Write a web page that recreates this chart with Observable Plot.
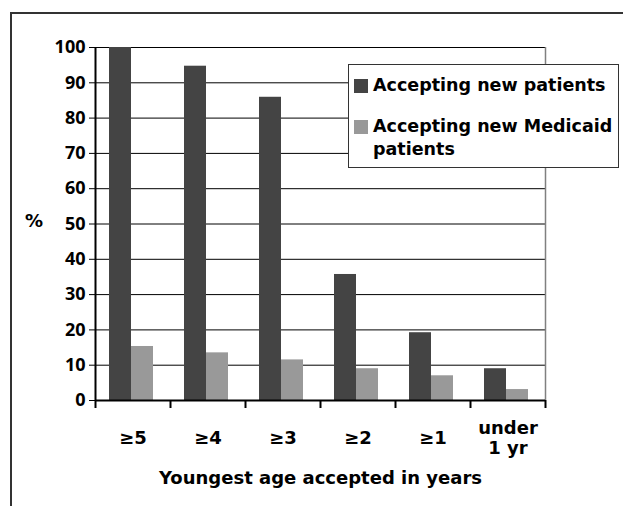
<!DOCTYPE html>
<html><head><meta charset="utf-8">
<script src="https://cdn.jsdelivr.net/npm/d3@7"></script>
<script src="https://cdn.jsdelivr.net/npm/@observablehq/plot@0.6"></script>
<style>
html,body{margin:0;padding:0;background:#fff;overflow:hidden;width:623px;height:506px;}
#wrap{position:relative;width:623px;height:506px;font-family:"DejaVu Sans",sans-serif;font-weight:bold;}
#outer{position:absolute;left:10px;top:12px;width:660px;height:540px;border-left:2px solid #333;border-top:2px solid #333;}
#chart{position:absolute;left:0;top:0;}
#legend{position:absolute;left:348px;top:64px;width:269px;height:102px;border:1px solid #333;background:#fff;font-size:17.5px;color:#000;}
.item{position:absolute;left:5px;display:flex;align-items:flex-start;line-height:23px;white-space:nowrap;}
.sw{width:14px;height:14px;margin-right:5px;margin-top:5px;flex:none;}
#pct{position:absolute;left:25px;top:209px;font-size:18px;line-height:24px;}
</style></head>
<body><div id="wrap"><div id="outer"></div><div id="chart"></div>
<div id="pct">%</div>
<div id="legend"></div></div>
<script>
const categories = ["≥5", "≥4", "≥3", "≥2", "≥1", "under\n1 yr"];
const seriesNames = ["Accepting new patients", "Accepting new Medicaid patients"];
const acceptingNew = [100, 94.7, 85.9, 35.7, 19.2, 9.0];
const acceptingMedicaid = [15.3, 13.5, 11.5, 9.0, 7.0, 3.1];
const yTicks = [0, 10, 20, 30, 40, 50, 60, 70, 80, 90, 100];
const colors = ["#444444", "#999999"];

const rows = categories.map((c, i) => ({cat: c, a: acceptingNew[i], b: acceptingMedicaid[i]}));
const bw = 75;
const wordFont = "'DejaVu Sans', sans-serif";
const numFont = "'Open Sans', sans-serif";
const firstCat = () => categories[0];
const lastCat = () => categories[categories.length - 1];

const chart = Plot.plot({
  width: 623, height: 506,
  marginLeft: 95, marginRight: 78, marginTop: 47, marginBottom: 106,
  style: {fontFamily: wordFont, fontWeight: "bold", fontSize: "18px", background: "transparent", color: "#000"},
  x: {domain: categories, padding: 0, axis: null},
  y: {domain: [0, 100], axis: null},
  marks: [
    Plot.ruleY(yTicks, {stroke: "#000", strokeWidth: 1}),
    Plot.ruleX([0], {x: lastCat, dx: bw / 2, stroke: "#808080", strokeWidth: 1.5}),
    Plot.barY(rows, {x: "cat", y: "a", fill: colors[0], insetLeft: 14, insetRight: 39}),
    Plot.barY(rows, {x: "cat", y: "b", fill: colors[1], insetLeft: 36, insetRight: 17}),
    Plot.ruleY([0], {stroke: "#000", strokeWidth: 2}),
    Plot.ruleX([0], {x: firstCat, dx: -bw / 2, stroke: "#000", strokeWidth: 2}),
    Plot.ruleX(categories, {x: d => d, dx: -bw / 2, y1: 0, y2: 0, insetBottom: -8, stroke: "#000", strokeWidth: 2}),
    Plot.ruleX([0], {x: lastCat, dx: bw / 2, y1: 0, y2: 0, insetBottom: -8, stroke: "#000", strokeWidth: 2}),
    Plot.axisY({ticks: yTicks, tickSize: 6, tickPadding: 4, fontSize: 18, fontWeight: "bold", fontFamily: numFont, anchor: "left", tickFormat: d => d}),
    Plot.text(categories, {x: d => d, y: 0, text: d => d, dy: 37, lineAnchor: "middle", lineHeight: 1.15, fontSize: 18, fontWeight: "bold", fill: "#000"}),
    Plot.text(["Youngest age accepted in years"], {x: () => categories[2], y: 0, dx: bw / 2, dy: 78, text: d => d, fontSize: 18, fontWeight: "bold", fill: "#000"})
  ]
});
document.getElementById("chart").appendChild(chart);

const leg = document.getElementById("legend");
const tops = [9, 50];
seriesNames.forEach((n, i) => {
  const it = document.createElement("div");
  it.className = "item";
  it.style.top = tops[i] + "px";
  const label = i === 1 ? "Accepting new Medicaid<br>patients" : n;
  it.innerHTML = `<div class="sw" style="background:${colors[i]}"></div><div>${label}</div>`;
  leg.appendChild(it);
});
</script></body></html>
